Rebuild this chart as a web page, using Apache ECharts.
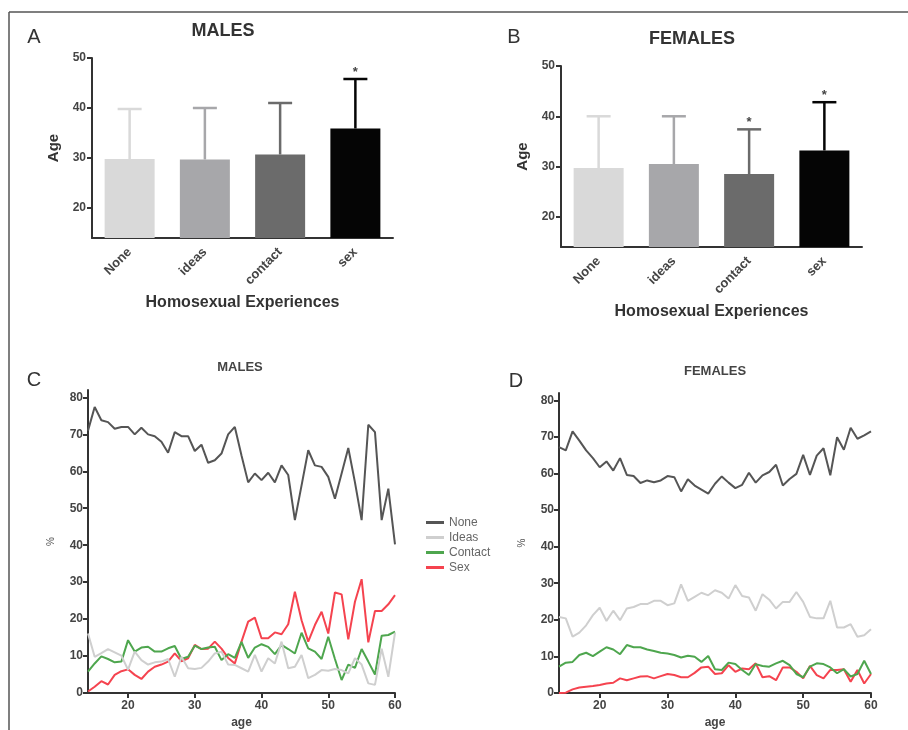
<!DOCTYPE html>
<html><head><meta charset="utf-8">
<script src="https://cdn.jsdelivr.net/npm/echarts@6/dist/echarts.min.js"></script>
<style>html,body{margin:0;padding:0;background:#fff}#c{width:908px;height:730px}</style>
</head><body><div id="c"></div>
<script>
// ---- Bar panels (A, B) ----
const categories = ['None', 'ideas', 'contact', 'sex'];
const malesMean = [29.8, 29.7, 30.7, 35.9];
const malesSD = [10.0, 10.3, 10.3, 9.9];
const malesSig = [0, 0, 0, 1];
const femalesMean = [29.7, 30.5, 28.5, 33.2];
const femalesSD = [10.3, 9.5, 8.9, 9.6];
const femalesSig = [0, 0, 1, 1];
const barTicks = [20, 30, 40, 50];

// ---- Line panels (C, D) ----
const ages = [14,15,16,17,18,19,20,21,22,23,24,25,26,27,28,29,30,31,32,33,34,35,36,37,38,39,40,41,42,43,44,45,46,47,48,49,50,51,52,53,54,55,56,57,58,59,60];
const lineTicksX = [20, 30, 40, 50, 60];
const lineTicksY = [0, 10, 20, 30, 40, 50, 60, 70, 80];
const seriesNames = ['None', 'Ideas', 'Contact', 'Sex'];

const maleNone = [71,77.4,73.8,73.3,71.5,72,72,70,71.8,70,69.5,68,65,70.6,69.5,69.5,65.5,67.2,62.3,63,64.8,70,72,64.3,57,59.4,57.6,59.6,57,61.6,59,46.8,56.2,65.7,61.6,61.2,58.5,52.6,59.4,66.3,57,46.8,72.6,70.6,46.8,55.3,40.2];
const maleIdeas = [16.1,9.8,10.8,11.9,11,10.1,6.3,11.2,8.9,7.7,8.3,8.5,9.2,4.4,9.8,6.7,6.5,6.8,8.5,10.7,11.2,7.7,7.6,6.7,5.8,10.3,5.8,9.4,8,13.9,6.7,7.1,10.3,4,4.9,6.2,6,6.5,6.2,5.3,9.4,7.7,2.6,2.2,12,4.4,16.3];
const maleContact = [5.8,8,9.9,9.2,8.3,8.5,14.3,11.2,12.3,12.5,11.2,11.2,12.1,12.7,9.2,9.8,12.8,11.9,12.3,12.5,8.9,10.5,9.5,13.8,9.5,12.3,13.2,12.5,10.5,13,11.9,10.7,16.3,12.1,11.2,9.2,15.2,9.2,3.5,7.7,6.8,11.9,8.5,5,15.5,15.7,16.6];
const maleSex = [0.4,1.7,3.2,2.3,4.9,5.9,6.4,4.9,3.8,5.8,7.1,7.7,8.5,10.7,8.6,9.4,13,11.9,12,13.9,12,9.5,8,13.9,19.3,20.4,14.8,14.8,16.4,15.9,18.6,27.4,19.7,13.9,18.4,22,16.1,27.2,26.7,14.5,24.7,30.8,13.7,22.2,22.2,24,26.5];

const femaleNone = [67.2,66.3,71.5,69,66.3,64.2,61.7,63.3,60.8,64.2,59.6,59.3,57.4,58.1,57.6,58.1,59.3,59,55.1,58.4,56.7,55.6,54.5,57.2,59.2,57.5,56,56.9,60.2,57.5,59.5,60.4,62.4,56.7,58.5,59.9,65.1,59.6,64.9,66.9,59.5,69.9,66.5,72.5,69.5,70.4,71.5];
const femaleIdeas = [20.8,20.4,15.4,16.5,18.5,21.3,23.3,19.7,22.5,19.9,23.1,23.5,24.3,24.3,25.2,25.2,24,24.5,29.7,25.2,26.3,27.4,26.7,28.1,27.4,25.8,29.5,26.5,26.1,22.5,27,25.5,23.1,24.9,24.9,27.6,24.9,20.8,20.4,20.4,25.2,17.9,17.9,18.8,15.4,15.8,17.4];
const femaleContact = [7.2,8.3,8.5,10.4,11,10.1,11.3,12.5,11.9,10.6,13.1,12.5,12.5,11.9,11.5,11,10.8,10.4,9.7,10.2,9.9,8.5,10.1,6.5,6.3,8.3,7.9,6.3,4.9,7.9,7.4,7.2,8.1,8.8,7.6,5.2,4.3,7.2,8.1,7.9,7,5.4,6.5,4.5,5.2,8.8,5.2];
const femaleSex = [0,0.1,1,1.5,1.7,1.9,2.2,2.6,2.8,4,3.5,4,4.5,4.6,4,4.6,5.2,4.9,4.3,4.3,5.5,7,7.2,5.2,5.4,7.6,5.8,6.7,6.5,8.1,4.3,4.6,3.5,7,7,5.8,4,7.4,4.9,4,6.3,6.3,6.5,3.1,6.3,2.6,5.2];

const barColors = ['#d9d9d9', '#a7a7aa', '#6b6b6b', '#050505'];
const lineColors = ['#555555', '#cfcfcf', '#4ea64e', '#f5434f'];
const FONT = '"Liberation Sans", Arial, sans-serif';

function pairs(vals) { return ages.map((a, i) => [a, vals[i]]); }

const axisLineStyle = { lineStyle: { color: '#333', width: 2 } };
const tickStyle = { length: 5, lineStyle: { color: '#333', width: 2 } };
function labelStyle(size) { return { color: '#444', fontWeight: 'bold', fontSize: size, fontFamily: FONT }; }

function barXAxis(grid) {
  return {
    type: 'category', gridIndex: grid, data: categories,
    axisLine: axisLineStyle,
    axisTick: Object.assign({ alignWithLabel: true }, tickStyle),
    axisLabel: Object.assign({ rotate: 45, margin: 12 }, labelStyle(13)),
    name: 'Homosexual Experiences', nameLocation: 'middle', nameGap: 57,
    nameTextStyle: { color: '#333', fontWeight: 'bold', fontSize: 16, fontFamily: FONT }
  };
}
function barYAxis(grid) {
  return {
    type: 'value', gridIndex: grid, min: 14, max: 50,
    axisLine: Object.assign({ show: true }, axisLineStyle),
    axisTick: Object.assign({ show: true, customValues: barTicks }, tickStyle),
    axisLabel: Object.assign({ customValues: barTicks, margin: 6 }, labelStyle(12)),
    splitLine: { show: false },
    name: 'Age', nameLocation: 'middle', nameGap: 31, nameRotate: 90,
    nameTextStyle: { color: '#333', fontWeight: 'bold', fontSize: 15, fontFamily: FONT }
  };
}
function lineXAxis(grid) {
  return {
    type: 'value', gridIndex: grid, min: 14, max: 60,
    axisLine: Object.assign({ show: true, onZero: false }, axisLineStyle),
    axisTick: Object.assign({ show: true, customValues: lineTicksX }, tickStyle),
    axisLabel: Object.assign({ customValues: lineTicksX, margin: 7 }, labelStyle(12)),
    splitLine: { show: false },
    name: 'age', nameLocation: 'middle', nameGap: 24,
    nameTextStyle: { color: '#444', fontWeight: 'bold', fontSize: 12, fontFamily: FONT }
  };
}
function lineYAxis(grid) {
  return {
    type: 'value', gridIndex: grid, min: 0, max: 82,
    axisLine: Object.assign({ show: true }, axisLineStyle),
    axisTick: Object.assign({ show: true, customValues: lineTicksY }, tickStyle),
    axisLabel: Object.assign({ customValues: lineTicksY, margin: 5 }, labelStyle(12)),
    splitLine: { show: false },
    name: '%', nameLocation: 'middle', nameGap: 32, nameRotate: 90,
    nameTextStyle: { color: '#555', fontSize: 10, fontFamily: FONT }
  };
}

function barSeries(axis, means) {
  return {
    type: 'bar', xAxisIndex: axis, yAxisIndex: axis, barWidth: 50,
    data: means.map((m, i) => ({ value: m, itemStyle: { color: barColors[i] } })),
    z: 3
  };
}
function errSeries(axis, means, sds, sig) {
  return {
    type: 'custom', xAxisIndex: axis, yAxisIndex: axis, z: 2,
    data: means.map((m, i) => [i, m, m + sds[i], sig[i]]),
    renderItem: function (params, api) {
      const idx = api.value(0);
      const base = api.coord([idx, api.value(1)]);
      const top = api.coord([idx, api.value(2)]);
      const col = barColors[idx];
      const children = [
        { type: 'line', shape: { x1: base[0], y1: base[1], x2: top[0], y2: top[1] }, style: { stroke: col, lineWidth: 2.5 } },
        { type: 'line', shape: { x1: top[0] - 12, y1: top[1], x2: top[0] + 12, y2: top[1] }, style: { stroke: col, lineWidth: 2.5 } }
      ];
      if (api.value(3)) {
        children.push({ type: 'text', x: top[0], y: top[1] - 7, style: { text: '*', fill: '#444', fontSize: 13, fontWeight: 'bold', fontFamily: FONT, align: 'center', verticalAlign: 'middle' } });
      }
      return { type: 'group', children: children };
    }
  };
}
function lineSeries(axis, name, vals, k) {
  return {
    type: 'line', name: name, xAxisIndex: axis, yAxisIndex: axis,
    data: pairs(vals), showSymbol: false, symbol: 'none',
    lineStyle: { color: lineColors[k], width: 2 }, itemStyle: { color: lineColors[k] },
    z: 4 - k, animation: false
  };
}

function txt(x, y, s, size, bold, color) {
  return { type: 'text', x: x, y: y, style: { text: s, fontSize: size, fontWeight: bold ? 'bold' : 'normal', fill: color || '#222', fontFamily: FONT, align: 'center', verticalAlign: 'middle' } };
}

const chart = echarts.init(document.getElementById('c'), null, { renderer: 'canvas' });
chart.setOption({
  backgroundColor: '#fff',
  animation: false,
  grid: [
    { left: 92, top: 58, width: 301, height: 180 },
    { left: 561, top: 66, width: 301, height: 181 },
    { left: 88, top: 390, width: 307, height: 303 },
    { left: 559, top: 393, width: 312, height: 300 }
  ],
  xAxis: [barXAxis(0), barXAxis(1), lineXAxis(2), lineXAxis(3)],
  yAxis: [barYAxis(0), barYAxis(1), lineYAxis(2), lineYAxis(3)],
  legend: {
    orient: 'vertical', left: 421, top: 511, itemWidth: 18, itemHeight: 3, itemGap: 2,
    icon: 'rect', data: seriesNames,
    textStyle: { fontSize: 12, lineHeight: 13, color: '#666', fontFamily: FONT }
  },
  series: [
    barSeries(0, malesMean), errSeries(0, malesMean, malesSD, malesSig),
    barSeries(1, femalesMean), errSeries(1, femalesMean, femalesSD, femalesSig),
    lineSeries(2, 'None', maleNone, 0), lineSeries(2, 'Ideas', maleIdeas, 1),
    lineSeries(2, 'Contact', maleContact, 2), lineSeries(2, 'Sex', maleSex, 3),
    lineSeries(3, 'None', femaleNone, 0), lineSeries(3, 'Ideas', femaleIdeas, 1),
    lineSeries(3, 'Contact', femaleContact, 2), lineSeries(3, 'Sex', femaleSex, 3)
  ],
  graphic: [
    { type: 'line', shape: { x1: 9, y1: 12, x2: 908, y2: 12 }, style: { stroke: '#555', lineWidth: 1.5 } },
    { type: 'line', shape: { x1: 9, y1: 12, x2: 9, y2: 730 }, style: { stroke: '#555', lineWidth: 1.5 } },
    txt(223, 31, 'MALES', 18, true, '#333'),
    txt(692, 39, 'FEMALES', 18, true, '#333'),
    txt(240, 367, 'MALES', 13, true, '#444'),
    txt(715, 371, 'FEMALES', 13, true, '#444'),
    txt(34, 37, 'A', 20, false, '#333'),
    txt(514, 37, 'B', 20, false, '#333'),
    txt(34, 380, 'C', 20, false, '#333'),
    txt(516, 381, 'D', 20, false, '#333')
  ]
});
</script></body></html>
